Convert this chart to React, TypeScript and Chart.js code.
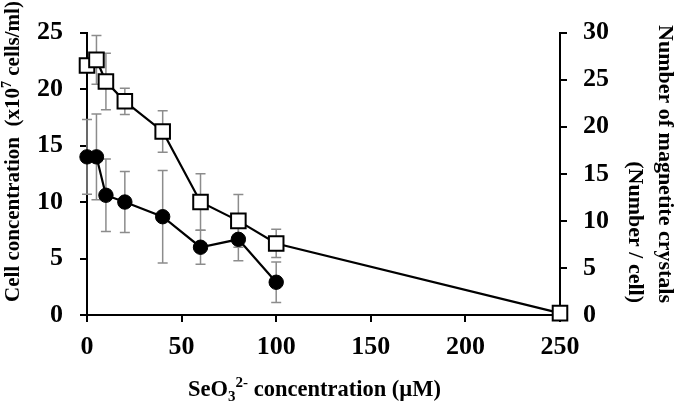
import React, { useEffect, useRef } from "react";
import { Chart, registerables } from "chart.js";

Chart.register(...registerables);

// SeO3 2- concentration (µM)
const xCells = [0, 5, 10, 20, 40, 60, 80, 100];
const cellValues = [14.0, 14.0, 10.6, 10.0, 8.7, 6.0, 6.7, 2.9];
const cellErrors = [3.3, 3.8, 3.2, 2.7, 4.1, 1.5, 1.9, 1.8];

const xCrystals = [0, 5, 10, 20, 40, 60, 80, 100, 250];
const crystalValues = [26.5, 27.1, 24.8, 22.7, 19.5, 12.0, 10.0, 7.6, 0.2];
const crystalErrors = [0, 2.6, 3.0, 1.4, 2.2, 3.0, 2.8, 1.5, 0];

const xTicks = [0, 50, 100, 150, 200, 250];
const leftTicks = [0, 5, 10, 15, 20, 25];
const rightTicks = [0, 5, 10, 15, 20, 25, 30];

const xTitleRuns = [
  { text: "SeO", small: false, dy: 0 },
  { text: "3", small: true, dy: 5 },
  { text: "2-", small: true, dy: -9 },
  { text: " concentration (\u00b5M)", small: false, dy: 0 },
];
const leftTitleRuns = [
  { text: "Cell concentration  (x10", small: false, dy: 0 },
  { text: "7", small: true, dy: -8 },
  { text: " cells/ml)", small: false, dy: 0 },
];
const rightTitleLines = ["Number of magnetite crystals", "(Number / cell)"];

const SERIF = '"Liberation Serif", "Times New Roman", Times, serif';

type Run = { text: string; small: boolean; dy: number };

function runsWidth(ctx: CanvasRenderingContext2D, runs: Run[], big: number, small: number) {
  let w = 0;
  for (const r of runs) {
    ctx.font = `bold ${r.small ? small : big}px ${SERIF}`;
    w += ctx.measureText(r.text).width;
  }
  return w;
}

function drawRuns(ctx: CanvasRenderingContext2D, runs: Run[], x: number, y: number, big: number, small: number) {
  let cx = x;
  ctx.textBaseline = "alphabetic";
  ctx.textAlign = "left";
  for (const r of runs) {
    ctx.font = `bold ${r.small ? small : big}px ${SERIF}`;
    ctx.fillText(r.text, cx, y + r.dy);
    cx += ctx.measureText(r.text).width;
  }
}

const errorBarPlugin = {
  id: "errorBars",
  beforeDatasetsDraw(chart: any) {
    const ctx = chart.ctx as CanvasRenderingContext2D;
    const errs = [cellErrors, crystalErrors];
    ctx.save();
    ctx.strokeStyle = "#8c8c8c";
    ctx.lineWidth = 1.5;
    chart.data.datasets.forEach((ds: any, i: number) => {
      const meta = chart.getDatasetMeta(i);
      const yScale = chart.scales[ds.yAxisID];
      const e = errs[i];
      meta.data.forEach((pt: any, j: number) => {
        const err = e[j];
        if (!err) return;
        const v = ds.data[j].y;
        const top = yScale.getPixelForValue(v + err);
        const bot = yScale.getPixelForValue(v - err);
        const x = pt.x;
        ctx.beginPath();
        ctx.moveTo(x, top);
        ctx.lineTo(x, bot);
        ctx.moveTo(x - 5, top);
        ctx.lineTo(x + 5, top);
        ctx.moveTo(x - 5, bot);
        ctx.lineTo(x + 5, bot);
        ctx.stroke();
      });
    });
    ctx.restore();
  },
};

const titlePlugin = {
  id: "titles",
  afterDraw(chart: any) {
    const ctx = chart.ctx as CanvasRenderingContext2D;
    const area = chart.chartArea;
    ctx.save();
    ctx.fillStyle = "#000";

    // x title
    const xw = runsWidth(ctx, xTitleRuns, 22.5, 15);
    const xc = (area.left + area.right) / 2 - 9;
    drawRuns(ctx, xTitleRuns, xc - xw / 2, 396, 22.5, 15);

    // left title
    ctx.save();
    ctx.translate(19, 302);
    ctx.rotate(-Math.PI / 2);
    drawRuns(ctx, leftTitleRuns, 0, 0, 21, 14);
    ctx.restore();

    // right title
    ctx.save();
    ctx.translate(659, 303);
    ctx.rotate(Math.PI / 2);
    ctx.font = `bold 22px ${SERIF}`;
    ctx.textAlign = "right";
    ctx.textBaseline = "alphabetic";
    rightTitleLines.forEach((line, i) => {
      ctx.fillText(line, 0, i * 30);
    });
    ctx.restore();

    ctx.restore();
  },
};

export default function App() {
  const ref = useRef<HTMLCanvasElement | null>(null);

  useEffect(() => {
    if (!ref.current) return;
    const tickFont = { family: SERIF, size: 26, weight: "bold" as const };
    const axisCommon = {
      grid: {
        drawOnChartArea: false,
        drawTicks: true,
        tickLength: 7,
        color: "#000",
        lineWidth: 2,
      },
      border: { color: "#000", width: 2 },
    };
    const chart = new Chart(ref.current, {
      type: "scatter",
      data: {
        datasets: [
          {
            label: "Cell concentration",
            data: xCells.map((x, i) => ({ x, y: cellValues[i] })),
            yAxisID: "y",
            showLine: true,
            borderColor: "#000",
            borderWidth: 2.2,
            pointStyle: "circle",
            pointRadius: 7.2,
            pointBorderWidth: 1,
            pointBackgroundColor: "#000",
            pointBorderColor: "#000",
            clip: false as any,
          },
          {
            label: "Number of magnetite crystals",
            data: xCrystals.map((x, i) => ({ x, y: crystalValues[i] })),
            yAxisID: "y2",
            showLine: true,
            borderColor: "#000",
            borderWidth: 2.2,
            pointStyle: "rect",
            pointRadius: 10.3,
            pointBorderWidth: 2,
            pointBackgroundColor: "#fff",
            pointBorderColor: "#000",
            clip: false as any,
          },
        ],
      },
      options: {
        responsive: false,
        animation: false,
        layout: { padding: { top: 12, left: 0, right: 0, bottom: 0 } },
        plugins: {
          legend: { display: false },
          tooltip: { enabled: false },
        },
        scales: {
          x: {
            type: "linear",
            min: xTicks[0],
            max: xTicks[xTicks.length - 1],
            afterBuildTicks: (s: any) => {
              s.ticks = xTicks.map((v) => ({ value: v }));
            },
            ticks: { font: tickFont, color: "#000", padding: 10, maxRotation: 0 },
            afterFit: (s: any) => {
              s.height = 88;
            },
            ...axisCommon,
          },
          y: {
            type: "linear",
            position: "left",
            min: leftTicks[0],
            max: leftTicks[leftTicks.length - 1],
            afterBuildTicks: (s: any) => {
              s.ticks = leftTicks.map((v) => ({ value: v }));
            },
            ticks: { font: tickFont, color: "#000", padding: 17 },
            afterFit: (s: any) => {
              s.width = 87;
            },
            ...axisCommon,
          },
          y2: {
            type: "linear",
            position: "right",
            min: rightTicks[0],
            max: rightTicks[rightTicks.length - 1],
            afterBuildTicks: (s: any) => {
              s.ticks = rightTicks.map((v) => ({ value: v }));
            },
            ticks: { font: tickFont, color: "#000", padding: 16 },
            afterFit: (s: any) => {
              s.width = 120;
            },
            ...axisCommon,
          },
        },
      } as any,
      plugins: [errorBarPlugin, titlePlugin],
    });
    return () => chart.destroy();
  }, []);

  return (
    <div style={{ position: "fixed", left: 0, top: 0, width: 680, height: 403, background: "#fff" }}>
      <canvas ref={ref} width={680} height={403} />
    </div>
  );
}
